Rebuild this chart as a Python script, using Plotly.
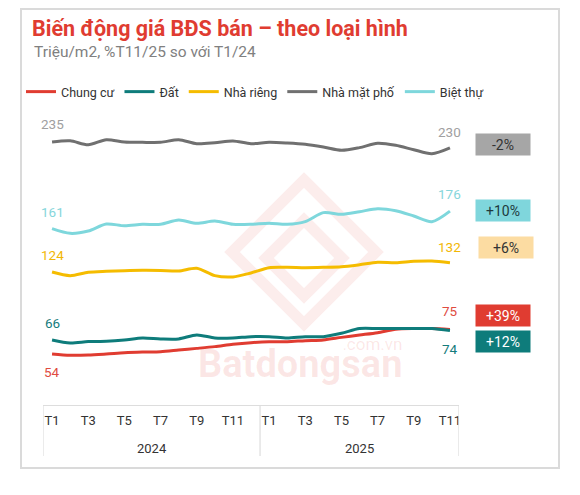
import plotly.graph_objects as go

# ---------------- data ----------------
years = ["2024", "2025"]
months_2024 = ["T1", "T2", "T3", "T4", "T5", "T6", "T7", "T8", "T9", "T10", "T11", "T12"]
months_2025 = ["T1", "T2", "T3", "T4", "T5", "T6", "T7", "T8", "T9", "T10", "T11"]

series_names = ["Chung cư", "Đất", "Nhà riêng", "Nhà mặt phố", "Biệt thự"]

chung_cu = [54, 52.9, 53.1, 54, 55.1, 55.7, 56, 57.4, 58.8, 60.3, 62.3, 63.7,
            64.5, 64.5, 65.4, 66, 68.2, 70.2, 72.2, 75.1, 75.7, 75.7, 75]
dat = [66, 63.4, 64.6, 64.9, 66, 67.7, 66.9, 66.9, 70.3, 67.7, 67.7, 68.8,
       68.8, 67.7, 68.8, 68.8, 71.7, 75.7, 75.7, 75.7, 75.7, 75.7, 74]
nha_rieng = [124, 120.9, 123.8, 124.6, 125.1, 125.4, 125.3, 124.9, 127.2, 120.9, 119.8, 123.2,
             127.7, 128, 127.7, 128, 128.5, 130.2, 132.3, 131.9, 133.1, 133.4, 132]
nha_mat_pho = [235, 236, 232.6, 237, 235, 234.7, 234.7, 237, 233.6, 234.4, 235.9, 233.6,
               234.7, 234.1, 233, 230.7, 227.9, 230.2, 233.9, 232.2, 228.4, 225, 230]
biet_thu = [161, 157, 159, 165, 163.5, 164.7, 164.7, 168.4, 165.6, 167.5, 164.7, 164.7,
            165.6, 164.7, 167, 174.7, 173.3, 175.5, 178, 176.3, 171.8, 167, 176]

pct_change = ["+39%", "+12%", "+6%", "-2%", "+10%"]   # %T11/25 so với T1/24

# ---------------- styles ----------------
line_colors = ["#E03C31", "#0E7C7B", "#F5BC00", "#707070", "#7ED7DC"]
label_colors = ["#E04B3F", "#157C7C", "#F2B705", "#A0A0A0", "#86D6DB"]
badge_bg = ["#E03C31", "#0E7C7B", "#FCDCA2", "#A6A6A6", "#7FD6DC"]
badge_fg = ["#FFFFFF", "#FFFFFF", "#333333", "#333333", "#1E3A3D"]
# badge vertical centres (data units) and start/end label shifts (px)
badge_y = [87.3, 64.3, 144.6, 232.6, 176.2]
badge_dx = [0, 0, 2.5, 0, 0]
start_shift = [-18, 17, 17, 18, 17]
end_shift = [18, -18, 16, 16, 17]

all_values = [chung_cu, dat, nha_rieng, nha_mat_pho, biet_thu]

month_labels = months_2024 + months_2025
x_idx = list(range(len(month_labels)))
n_2024 = len(months_2024)

FONT = "Roboto"
WM = "rgba(224,60,49,0.12)"
# the page body adds an 8px margin, so the figure is drawn 8px smaller
OFF = 8
W, H = 580 - OFF, 495 - OFF
# plot area (reference pixels): x 43..459, y 115..405
PX0, PX1, PY0, PY1 = 43, 459, 115, 405


def px_x(x):
    return (x - PX0) / (PX1 - PX0)


def px_y(y):
    return (PY1 - y) / (PY1 - PY0)


def px_path(points):
    return "M" + " L".join(f"{px_x(a):.4f},{px_y(b):.4f}" for a, b in points) + " Z"


fig = go.Figure()
for name, vals, col in zip(series_names, all_values, line_colors):
    fig.add_trace(go.Scatter(
        x=x_idx, y=vals, name=name, mode="lines",
        line=dict(color=col, width=3, shape="spline", smoothing=0.8),
        hoverinfo="skip",
    ))

annotations = []
# watermark (drawn first so it sits under the other texts)
annotations.append(dict(x=px_x(404), xref="paper", y=px_y(388), yref="paper",
                        xanchor="right", yanchor="bottom", align="right",
                        text="<span style='font-size:17px'>.com.vn</span><br>"
                             "<span style='font-size:38px'><b>Batdongsan</b></span>",
                        showarrow=False,
                        font=dict(family=FONT, size=21, color=WM)))

# start / end value labels
for vals, col, s0, s1 in zip(all_values, label_colors, start_shift, end_shift):
    annotations.append(dict(x=x_idx[0], y=vals[0], text=f"{round(vals[0])}",
                            showarrow=False, yshift=s0, xref="x", yref="y",
                            font=dict(family=FONT, size=13.5, color=col)))
    annotations.append(dict(x=x_idx[-1], y=vals[-1], text=f"{round(vals[-1])}",
                            showarrow=False, yshift=s1, xref="x", yref="y",
                            font=dict(family=FONT, size=13.5, color=col)))

# percent badges
for txt, yv, bg, fg, dx in zip(pct_change, badge_y, badge_bg, badge_fg, badge_dx):
    annotations.append(dict(x=1, xref="paper", y=yv, yref="y", xanchor="left",
                            xshift=16 + dx, text=txt, showarrow=False,
                            bgcolor=bg, width=52, height=19, borderpad=1,
                            font=dict(family=FONT, size=14, color=fg)))

# year labels (centered within each year group)
year_centers = [(0 + n_2024 - 1) / 2, (n_2024 + len(month_labels) - 1) / 2]
for yr, xc in zip(years, year_centers):
    annotations.append(dict(x=xc, xref="x", y=px_y(448), yref="paper", text=yr,
                            showarrow=False, yanchor="middle",
                            font=dict(family=FONT, size=13, color="#333333")))

# subtitle
annotations.append(dict(x=px_x(32), xref="paper", y=px_y(52), yref="paper",
                        text="Triệu/m2, %T11/25 so với T1/24", showarrow=False,
                        xanchor="left", yanchor="middle",
                        font=dict(family=FONT, size=15.5, color="#808080")))

shapes = []
# card border
shapes.append(dict(type="rect", xref="paper", yref="paper",
                   x0=px_x(21), x1=px_x(559), y0=px_y(468), y1=px_y(9),
                   line=dict(color="#DADADA", width=2), fillcolor="rgba(0,0,0,0)", layer="below"))
# faint watermark logo (two nested diamonds)
for pts in ([(304, 180), (376, 252), (304, 324), (232, 252)],
            [(304, 220), (342, 258), (304, 296), (266, 258)]):
    shapes.append(dict(type="path", xref="paper", yref="paper", path=px_path(pts),
                       line=dict(color="rgba(224,60,49,0.09)", width=11),
                       fillcolor="rgba(0,0,0,0)", layer="below"))
# year dividers under the axis
for xv in [-0.5, n_2024 - 0.5, len(month_labels) - 0.5]:
    shapes.append(dict(type="line", xref="x", yref="paper", x0=xv, x1=xv,
                       y0=0, y1=px_y(456), line=dict(color="#DDDDDD", width=1.2)))

tick_vals = x_idx[::2]
tick_text = month_labels[::2]

fig.update_layout(
    width=W, height=H,
    margin=dict(l=PX0 - OFF, r=W - (PX1 - OFF), t=PY0 - OFF, b=H - (PY1 - OFF)),
    paper_bgcolor="white", plot_bgcolor="white",
    font=dict(family=FONT, color="#333333"),
    title=dict(text="<b>Biến động giá BĐS bán – theo loại hình</b>",
               x=(32 - OFF) / W, xref="container", xanchor="left",
               y=1 - (28 - OFF) / H, yref="container", yanchor="middle",
               font=dict(family=FONT, size=21.5, color="#E03C31")),
    showlegend=True,
    legend=dict(orientation="h", xref="paper", x=px_x(489), xanchor="right",
                yref="paper", y=px_y(92), yanchor="middle",
                font=dict(family=FONT, size=12.5, color="#333333"),
                bgcolor="rgba(0,0,0,0)", traceorder="normal", itemclick=False,
                itemwidth=30),
    xaxis=dict(range=[-0.5, len(month_labels) - 0.5], tickmode="array",
               tickvals=tick_vals, ticktext=tick_text, showgrid=False, zeroline=False,
               showline=True, linecolor="#DDDDDD", linewidth=1.2,
               ticks="outside", ticklen=3, tickcolor="rgba(0,0,0,0)",
               tickfont=dict(family=FONT, size=13, color="#333333")),
    yaxis=dict(range=[10.46, 258.05], visible=False, showgrid=False, zeroline=False),
    annotations=annotations,
    shapes=shapes,
)

fig.write_html("out.html")
